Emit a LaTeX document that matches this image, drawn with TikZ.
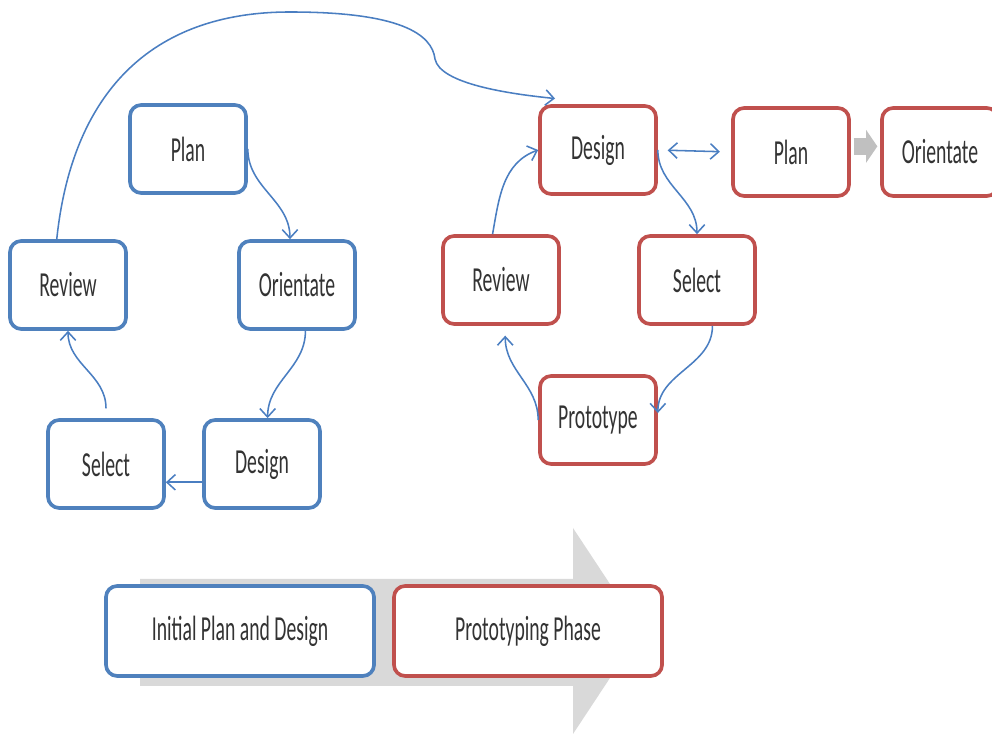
\documentclass[tikz,border=0pt]{standalone}
\usepackage{fontspec}
\setmainfont{Carlito}[FakeStretch=0.56]
\usetikzlibrary{arrows.meta}
\definecolor{boxblue}{RGB}{79,129,189}
\definecolor{boxred}{RGB}{192,80,77}
\definecolor{linkblue}{RGB}{74,126,193}
\definecolor{arrowgray}{RGB}{217,217,217}
\definecolor{stepgray}{RGB}{192,192,192}
\tikzset{
	phase/.style={draw, fill=white, rounded corners=8pt, line width=2.6pt, minimum width=2.9cm, minimum height=2.2cm, text=black!80, font=\fontsize{25}{30}\selectfont},
	bluebox/.style={phase, draw=boxblue},
	redbox/.style={phase, draw=boxred},
	widebox/.style={minimum width=6.7cm, minimum height=2.25cm},
	link/.style={draw=linkblue, line width=1.1pt, -{Straight Barb[length=6pt,width=11pt]}},
	twoway/.style={draw=linkblue, line width=1.1pt, {Straight Barb[length=6pt,width=11pt]}-{Straight Barb[length=6pt,width=11pt]}},
	blockarrow/.style={draw=stepgray, line width=12pt, -{Triangle[length=8pt,width=23pt]}}
}

\begin{document}
\begin{tikzpicture}[x=0.025cm,y=0.025cm]
			%%%%% START %%%%%
			\useasboundingbox (0,0) rectangle (992,734);
			
			% phase arrow
			\fill[arrowgray] (140,155) -- (573,155) -- (573,206) -- (641,103) -- (573,0) -- (573,48) -- (140,48) -- cycle;
			
			% first cycle
			\node[bluebox] (lplan) at (188,585) {Plan};
			\node[bluebox] (lorient) at (297,449) {Orientate};
			\node[bluebox] (ldesign) at (262,270) {Design};
			\node[bluebox] (lselect) at (106,270) {Select};
			\node[bluebox] (lreview) at (68,449) {Review};
			
			% prototyping cycle
			\node[redbox] (rdesign) at (598,584) {Design};
			\node[redbox] (rselect) at (697,454) {Select};
			\node[redbox] (rproto) at (598,314) {Prototype};
			\node[redbox] (rreview) at (501,454) {Review};
			\node[redbox] (rplan) at (791,582) {Plan};
			\node[redbox] (rorient) at (940,582) {Orientate};
			
			% phases
			\node[bluebox, widebox] (initial) at (240,103) {Initial Plan and Design};
			\node[redbox, widebox] (prototyping) at (528,103) {Prototyping Phase};
			
			\draw[link] (lplan.east) to[out=-90,in=90] ([xshift=-5pt]lorient.north);
			\draw[link] ([xshift=6pt]lorient.south) to[out=-90,in=90] ([xshift=4pt]ldesign.north);
			\draw[link] ([yshift=-13pt]ldesign.west) -- ([yshift=-13pt]lselect.east);
			\draw[link] ([yshift=7pt]lselect.north) to[out=90,in=-90] (lreview.south);
			\draw[link] ([xshift=-8pt]lreview.north) .. controls (72,640) and (150,722) .. (290,722) .. controls (400,722) and (432,700) .. (435,675) .. controls (440,650) and (510,640) .. ([xshift=12pt,yshift=4pt]rdesign.north west);
			
			\draw[link] ([xshift=-6pt]rreview.north) to[out=80,in=200] (rdesign.west);
			\draw[link] (rdesign.east) to[out=-90,in=90] (rselect.north);
			\draw[link] ([xshift=11pt]rselect.south) to[out=-90,in=90] ([yshift=5pt]rproto.east);
			\draw[link] (rproto.west) to[out=90,in=-90] ([xshift=3pt,yshift=-7pt]rreview.south);
			\draw[twoway, shorten <=7pt, shorten >=8pt] (rdesign.east) -- (rplan.west);
			\draw[blockarrow, shorten <=2pt, shorten >=2pt] ([yshift=4pt]rplan.east) -- ([yshift=4pt]rorient.west);
			
			%%%%% END %%%%%
\end{tikzpicture}
\end{document}
